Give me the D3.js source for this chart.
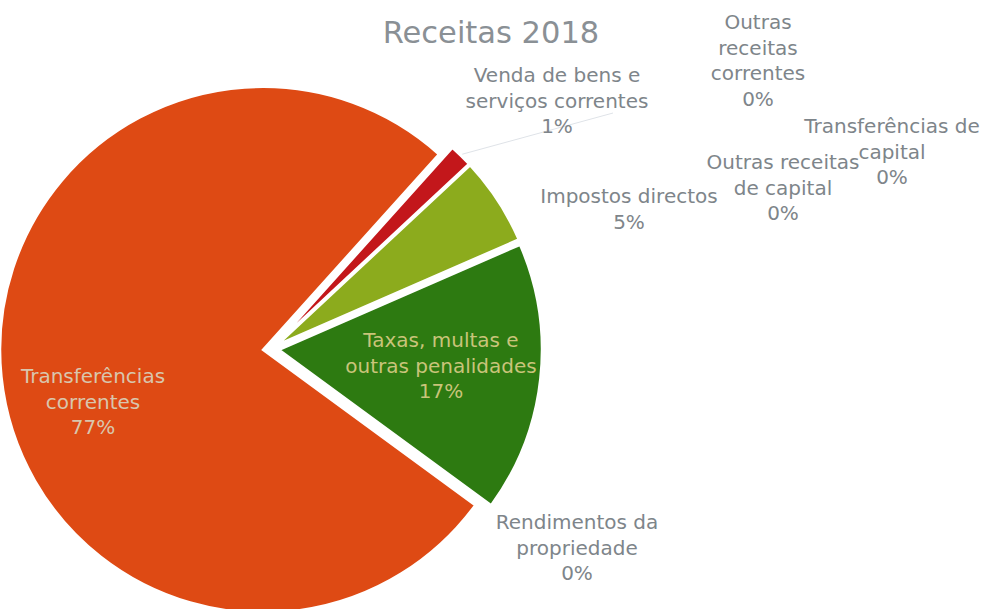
<!DOCTYPE html>
<html lang="pt">
<head>
<meta charset="UTF-8">
<title>Receitas 2018</title>
<style>
  body { margin: 0; background: #ffffff; }
  svg { display: block; }
</style>
</head>
<body>
<div id="chart"></div>
<script src="https://cdn.jsdelivr.net/npm/d3@7/dist/d3.min.js"></script>
<script>
// data, in the order of the original spreadsheet
const categories = [
  "Impostos directos",
  "Taxas, multas e outras penalidades",
  "Rendimentos da propriedade",
  "Transferências correntes",
  "Venda de bens e serviços correntes",
  "Outras receitas correntes",
  "Transferências de capital",
  "Outras receitas de capital"
];
const values = [5.4, 16.6, 0, 76.6, 1.4, 0, 0, 0];
const pctLabels = ["5%", "17%", "0%", "77%", "1%", "0%", "0%", "0%"];
// how each category name wraps in the label
const labelLines = [
  ["Impostos directos"],
  ["Taxas, multas e", "outras penalidades"],
  ["Rendimentos da", "propriedade"],
  ["Transferências", "correntes"],
  ["Venda de bens e", "serviços correntes"],
  ["Outras", "receitas", "correntes"],
  ["Transferências de", "capital"],
  ["Outras receitas", "de capital"]
];

const colors = ["#8cab1d", "#2d7a11", "#5a8fd0", "#de4a14", "#c3171b", "#999999", "#999999", "#999999"];

const W = 986, H = 609;
const cx = 271, cy = 349, R = 263, explode = 8;
const startDeg = 47;

// label anchors: [x of line centre, y of first line]
const labelPos = [
  [629, 196],
  [441, 340],
  [577, 522],
  [93, 376],
  [557, 75],
  [758, 22],
  [892, 126],
  [783, 162]
];
const inside = [false, true, false, true, false, false, false, false];
const lineH = 25.5;
const font = "'DejaVu Sans', Verdana, sans-serif";

const svg = d3.select("#chart").append("svg")
  .attr("width", W).attr("height", H);

svg.append("text")
  .attr("x", 491).attr("y", 43)
  .attr("text-anchor", "middle")
  .style("font-family", font)
  .style("font-size", "30.5px")
  .style("fill", "#8a9095")
  .text("Receitas 2018");

const pie = d3.pie().sort(null).value(d => d)
  .startAngle(startDeg * Math.PI / 180)
  .endAngle(startDeg * Math.PI / 180 + 2 * Math.PI);
const arcs = pie(values);
const arc = d3.arc().innerRadius(0).outerRadius(R);

const g = svg.append("g").attr("transform", `translate(${cx},${cy})`);

g.selectAll("path.slice")
  .data(arcs.filter(a => a.value > 0))
  .join("path")
  .attr("class", "slice")
  .attr("d", arc)
  .attr("transform", d => {
    const m = (d.startAngle + d.endAngle) / 2;
    return `translate(${Math.sin(m) * explode},${-Math.cos(m) * explode})`;
  })
  .attr("fill", d => colors[d.index])
  .attr("stroke", "#ffffff")
  .attr("stroke-width", 2.5)
  .attr("stroke-linejoin", "miter");

// faint leader line for the small slice
const venda = arcs[4];
const vm = (venda.startAngle + venda.endAngle) / 2;
svg.append("line")
  .attr("x1", cx + Math.sin(vm) * (R + explode + 2))
  .attr("y1", cy - Math.cos(vm) * (R + explode + 2))
  .attr("x2", labelPos[4][0] + 56)
  .attr("y2", labelPos[4][1] + 38)
  .attr("stroke", "#dfe3e8")
  .attr("stroke-width", 1);

const labels = svg.append("g")
  .style("font-family", font)
  .style("font-size", "20px");

categories.forEach((c, i) => {
  const lines = labelLines[i].concat([pctLabels[i]]);
  const t = labels.append("text")
    .attr("text-anchor", "middle")
    .attr("dominant-baseline", "central")
    .style("fill", inside[i] ? (i === 1 ? "#c9c47a" : "#d9c6ad") : "#7e858a");
  lines.forEach((ln, k) => {
    t.append("tspan")
      .attr("x", labelPos[i][0])
      .attr("y", labelPos[i][1] + k * lineH)
      .text(ln);
  });
});
</script>
</body>
</html>
